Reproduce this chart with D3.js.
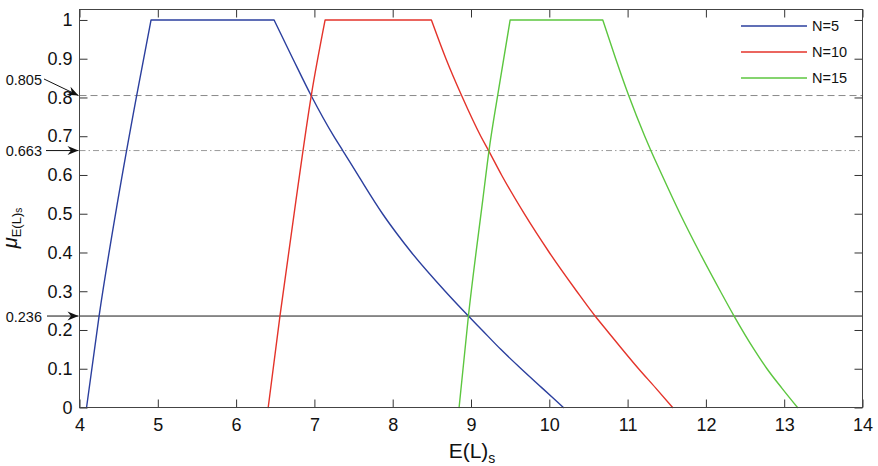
<!DOCTYPE html>
<html>
<head>
<meta charset="utf-8">
<script src="https://cdn.jsdelivr.net/npm/d3@7"></script>
<style>
  body { margin: 0; background: #fff; }
  svg { display: block; font-family: "Liberation Sans", Arial, sans-serif; }
</style>
</head>
<body>
<svg id="chart" width="878" height="466"></svg>
<script>
// membership curves
const n5X  = [4.09, 4.25, 4.49, 4.73, 4.914, 6.485, 6.725, 6.958, 7.247, 7.362, 7.555, 7.87, 8.052, 8.24, 8.67, 8.967, 9.14, 9.38, 9.64, 9.91, 10.18];
const n5Y  = [0, 0.236, 0.535, 0.805, 1, 1, 0.9, 0.805, 0.7, 0.663, 0.6, 0.5, 0.449, 0.4, 0.3, 0.236, 0.2, 0.15, 0.1, 0.05, 0];
const n10X = [6.41, 6.56, 6.765, 6.96, 7.137, 8.494, 8.68, 8.88, 9.125, 9.225, 9.39, 9.68, 10.0, 10.35, 10.585, 10.73, 11.14, 11.36, 11.575];
const n10Y = [0, 0.236, 0.535, 0.805, 1, 1, 0.9, 0.805, 0.7, 0.663, 0.6, 0.5, 0.4, 0.3, 0.236, 0.2, 0.1, 0.05, 0];
const n15X = [8.848, 8.967, 9.15, 9.23, 9.34, 9.50, 10.683, 10.848, 11.014, 11.219, 11.297, 11.439, 11.67, 11.92, 12.185, 12.36, 12.615, 12.78, 12.97, 13.17];
const n15Y = [0, 0.236, 0.535, 0.663, 0.805, 1, 1, 0.9, 0.805, 0.7, 0.663, 0.6, 0.5, 0.4, 0.3, 0.236, 0.15, 0.1, 0.05, 0];

const seriesNames = ["N=5", "N=10", "N=15"];
const seriesColors = ["#2b3f9e", "#e4332a", "#5cc63f"];

// horizontal cut levels
const cutLevels = [0.805, 0.663, 0.236];
const cutLabels = ["0.805", "0.663", "0.236"];

const xTicks = [4, 5, 6, 7, 8, 9, 10, 11, 12, 13, 14];
const yTicks = [0, 0.1, 0.2, 0.3, 0.4, 0.5, 0.6, 0.7, 0.8, 0.9, 1];
const yTickLabels = ["0", "0.1", "0.2", "0.3", "0.4", "0.5", "0.6", "0.7", "0.8", "0.9", "1"];

const svg = d3.select("#chart");
const m = {left: 79.5, right: 862.5, top: 9.5, bottom: 407.5};

const x = d3.scaleLinear().domain([4, 14]).range([m.left, m.right]);
const y = d3.scaleLinear().domain([0, 1.027]).range([m.bottom, m.top]);

svg.append("rect").attr("width", 878).attr("height", 466).attr("fill", "#fff");

// arrow head marker
svg.append("defs").append("marker")
  .attr("id", "head")
  .attr("viewBox", "-12 -6 13 12")
  .attr("refX", 0).attr("refY", 0)
  .attr("markerWidth", 13).attr("markerHeight", 12)
  .attr("markerUnits", "userSpaceOnUse")
  .attr("orient", "auto")
  .append("path")
  .attr("d", "M0,0 L-11,-4.5 L-7.5,0 L-11,4.5 Z")
  .attr("fill", "#111");

// cut lines
const cutStyles = [
  {stroke: "#8a8a8a", dash: "7,4"},
  {stroke: "#9a9a9a", dash: "6,3,1.5,3"},
  {stroke: "#1a1a1a", dash: null}
];
svg.append("g").selectAll("line").data(cutLevels).join("line")
  .attr("x1", m.left).attr("x2", m.right)
  .attr("y1", d => y(d)).attr("y2", d => y(d))
  .attr("stroke", (d, i) => cutStyles[i].stroke)
  .attr("stroke-width", 1)
  .attr("stroke-dasharray", (d, i) => cutStyles[i].dash);

// curves: rising side, flat top and falling side drawn piecewise
const series = [
  n5X.map((v, i) => [v, n5Y[i]]),
  n10X.map((v, i) => [v, n10Y[i]]),
  n15X.map((v, i) => [v, n15Y[i]])
];
const smooth = d3.line().x(d => x(d[0])).y(d => y(d[1])).curve(d3.curveMonotoneX);
const straight = d3.line().x(d => x(d[0])).y(d => y(d[1]));
function pathFor(pts) {
  const i1 = pts.findIndex(p => p[1] === 1);
  let i2 = i1;
  while (i2 + 1 < pts.length && pts[i2 + 1][1] === 1) i2++;
  return smooth(pts.slice(0, i1 + 1)) + straight(pts.slice(i1, i2 + 1)) + smooth(pts.slice(i2));
}
svg.append("g").selectAll("path").data(series).join("path")
  .attr("d", pathFor)
  .attr("fill", "none")
  .attr("stroke", (d, i) => seriesColors[i])
  .attr("stroke-width", 1.4)
  .attr("stroke-linecap", "round")
  .attr("stroke-linejoin", "round");

// axes
const axisColor = "#333";
const gx = svg.append("g").attr("transform", `translate(0,${m.bottom})`)
  .call(d3.axisBottom(x).tickValues(xTicks).tickFormat(d3.format("d"))
    .tickSizeInner(-8).tickSizeOuter(0).tickPadding(11));
const gy = svg.append("g").attr("transform", `translate(${m.left},0)`)
  .call(d3.axisLeft(y).tickValues(yTicks).tickFormat((d, i) => yTickLabels[i])
    .tickSizeInner(-8).tickSizeOuter(0).tickPadding(7));
const gt = svg.append("g").attr("transform", `translate(0,${m.top})`)
  .call(d3.axisTop(x).tickValues(xTicks).tickFormat("").tickSizeInner(-8).tickSizeOuter(0));
const gr = svg.append("g").attr("transform", `translate(${m.right},0)`)
  .call(d3.axisRight(y).tickValues(yTicks).tickFormat("").tickSizeInner(-8).tickSizeOuter(0));

[gx, gy, gt, gr].forEach(g => {
  g.select(".domain").remove();
  g.selectAll(".tick line").attr("stroke", axisColor);
  g.selectAll("text").attr("font-size", 18).attr("fill", "#111")
    .attr("font-family", "'Liberation Sans', Arial, sans-serif");
});

// frame
svg.append("rect")
  .attr("x", m.left).attr("y", m.top)
  .attr("width", m.right - m.left).attr("height", m.bottom - m.top)
  .attr("fill", "none").attr("stroke", "#444").attr("stroke-width", 1);

// cut annotations with arrows
const arrowStart = [[44, 79], [46, y(0.663)], [47, y(0.236)]];
const labelBase = [85, 156, 322];
const ann = svg.append("g");
cutLevels.forEach((v, i) => {
  ann.append("line")
    .attr("x1", arrowStart[i][0]).attr("y1", arrowStart[i][1])
    .attr("x2", m.left - 1).attr("y2", y(v))
    .attr("stroke", "#111").attr("stroke-width", 1)
    .attr("marker-end", "url(#head)");
  ann.append("text")
    .attr("x", 42).attr("y", labelBase[i])
    .attr("text-anchor", "end")
    .attr("font-size", 14.5).attr("fill", "#111")
    .text(cutLabels[i]);
});

// legend
const legendY = [26, 52, 78];
const lg = svg.append("g");
seriesNames.forEach((name, i) => {
  lg.append("line")
    .attr("x1", 741).attr("x2", 807)
    .attr("y1", legendY[i]).attr("y2", legendY[i])
    .attr("stroke", seriesColors[i]).attr("stroke-width", 1.3);
  lg.append("text")
    .attr("x", 812).attr("y", legendY[i] + 5.2)
    .attr("font-size", 14.5).attr("fill", "#111")
    .text(name);
});

// x label
const xl = svg.append("text")
  .attr("x", 472).attr("y", 458)
  .attr("text-anchor", "middle")
  .attr("fill", "#111");
xl.append("tspan").attr("font-size", 21).text("E(L)");
xl.append("tspan").attr("font-size", 14).attr("dy", 5).text("s");

// y label
const yl = svg.append("text")
  .attr("transform", "translate(17,228) rotate(-90)")
  .attr("text-anchor", "middle")
  .attr("fill", "#111");
yl.append("tspan").attr("font-size", 20).attr("font-style", "italic").text("μ");
yl.append("tspan").attr("font-size", 13).attr("dy", 4).text("E(L)");
yl.append("tspan").attr("font-size", 10).attr("dy", 1).text("s");
</script>
</body>
</html>
